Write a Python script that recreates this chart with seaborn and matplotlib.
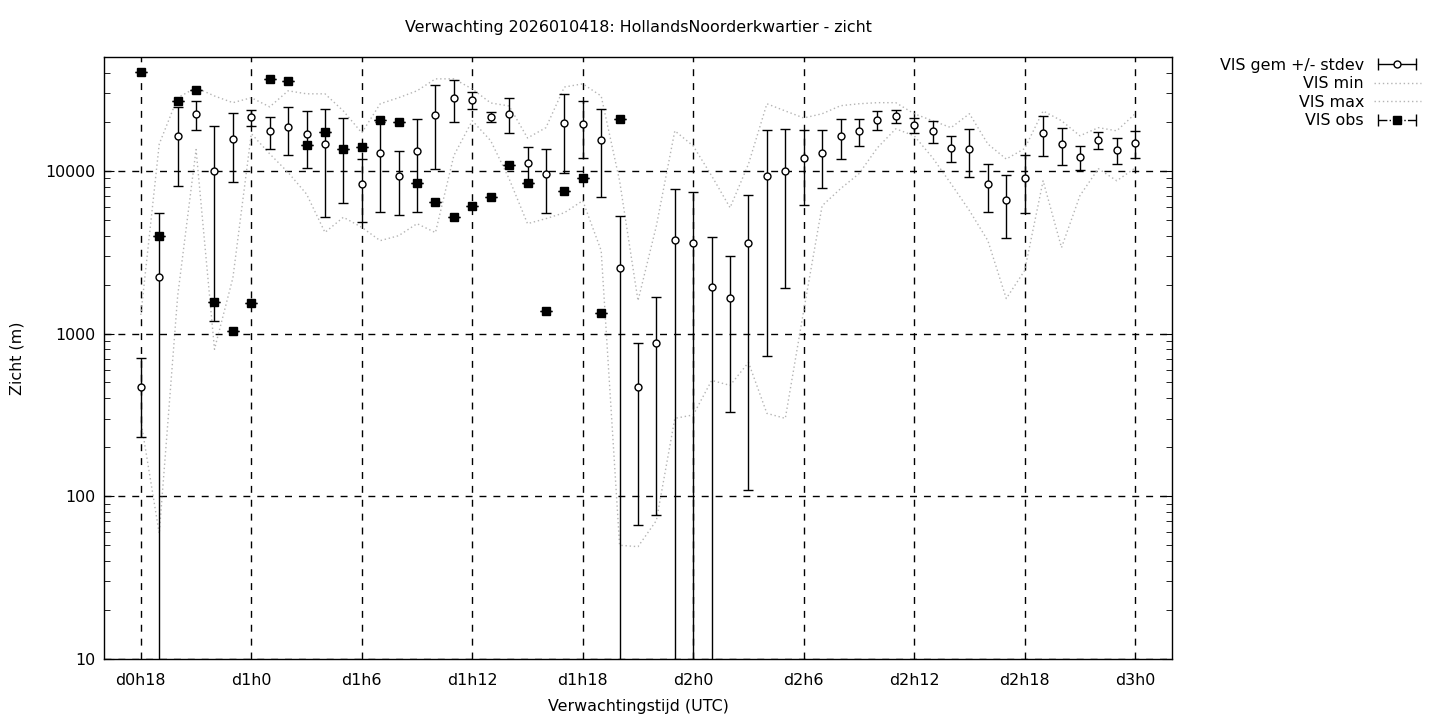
import numpy as np
import pandas as pd
import seaborn as sns
import matplotlib.pyplot as plt
from matplotlib.lines import Line2D
from matplotlib.legend_handler import HandlerLine2D, HandlerTuple

# forecast hours since d0h0, hourly from d0h18 to d3h0
hours = list(range(18, 73))

vis_mean = [470, 2240, 16300, 22300, 10000, 15600, 21300, 17500, 18500, 16800,
            14600, 13700, 8290, 12800, 9280, 13200, 21900, 27900, 27200, 21400,
            22400, 11150, 9540, 19700, 19400, 15400, 2540, 472, 877, 3760,
            3600, 1940, 1660, 3600, 9280, 10000, 11970, 12840, 16330, 17500,
            20500, 21600, 19060, 17500, 13780, 13600, 8290, 6610, 9020, 17030,
            14570, 12140, 15400, 13400, 14800]
vis_std = [240, 3280, 8200, 4500, 8800, 7100, 2400, 3800, 6000, 6400,
           9400, 7400, 3450, 7200, 3900, 7600, 11600, 8000, 3400, 1550,
           5400, 2750, 4050, 10000, 7350, 8500, 2730, 405, 800, 3970,
           3790, 1960, 1330, 3490, 8550, 8100, 5800, 5050, 4500, 3400,
           2800, 1950, 1950, 2600, 2500, 4400, 2700, 2750, 3500, 4650,
           3650, 2100, 1800, 2400, 2750]
vis_min = [292, 59, 1700, 13500, 800, 2200, 16900, 12700, 9760, 7190,
           4180, 5180, 4490, 3720, 3990, 4730, 4170, 12400, 20300, 15300,
           8930, 4730, 5080, 5520, 6550, 3230, 50, 49, 71, 301,
           316, 515, 480, 664, 323, 301, 1384, 6100, 7760, 9590,
           13840, 18100, 16400, 12020, 8320, 5690, 3720, 1640, 2440, 8680,
           3370, 7030, 10300, 8680, 10400]
vis_max = [1300, 14600, 28100, 32400, 28800, 26200, 28100, 24700, 31000, 29700,
           29700, 23300, 17100, 25800, 28100, 31000, 36700, 36700, 31800, 26100,
           25000, 15900, 18400, 32700, 34200, 28800, 8680, 1590, 4600, 17600,
           14200, 9310, 5930, 11000, 25800, 23300, 21100, 22400, 25100, 25800,
           26200, 26200, 22400, 20300, 18400, 22400, 14600, 11800, 13700, 23300,
           20300, 16400, 18400, 17600, 22400]

# observations, d0h18 to d1h20
obs_hours = list(range(18, 45))
vis_obs = [40400, 3990, 26800, 31500, 1563, 1042, 1540, 36500, 35500, 14400,
           17300, 13600, 14000, 20500, 19900, 8400, 6430, 5220, 6070, 6930,
           10800, 8400, 1384, 7500, 9020, 1340, 20800]

tick_hours = [18, 24, 30, 36, 42, 48, 54, 60, 66, 72]
tick_labels = ['d0h18', 'd1h0', 'd1h6', 'd1h12', 'd1h18',
               'd2h0', 'd2h6', 'd2h12', 'd2h18', 'd3h0']

df = pd.DataFrame({'uur': hours, 'gem': vis_mean, 'std': vis_std,
                   'min': vis_min, 'max': vis_max})
df_obs = pd.DataFrame({'uur': obs_hours, 'obs': vis_obs})

sns.set_style('ticks')
plt.rcParams['font.family'] = ['DejaVu Sans']
plt.rcParams['font.size'] = 11.4
plt.rcParams['text.color'] = 'k'
plt.rcParams['axes.labelcolor'] = 'k'
fs = 11.4

fig = plt.figure(figsize=(14.4, 7.2), dpi=100)
ax = fig.add_axes([104 / 1440, 61 / 720, 1068 / 1440, 602 / 720])

dots = (0, (1, 2))
sns.lineplot(data=df, x='uur', y='min', color='#b4b4b4', linestyle=dots, lw=1, ax=ax)
sns.lineplot(data=df, x='uur', y='max', color='#b4b4b4', linestyle=dots, lw=1, ax=ax)

# lower bar runs off the log axis when mean - stdev <= 0
lower = np.where(df['gem'] - df['std'] > 0, df['std'], df['gem'] - 1)
ax.errorbar(df['uur'], df['gem'], yerr=[lower, df['std']], fmt='o', color='k',
            mfc='white', mec='k', ms=5, mew=1, elinewidth=1, capsize=3.5,
            capthick=1, zorder=3)
ax.errorbar(df_obs['uur'], df_obs['obs'], yerr=np.zeros(len(df_obs)), fmt='s',
            color='k', ms=5.5, elinewidth=1, capsize=4, capthick=1, zorder=4)

ax.set_yscale('log')
ax.set_xlim(16, 74)
ax.set_ylim(10, 50000)
ax.set_xticks(tick_hours)
ax.set_xticklabels(tick_labels)
ax.set_yticks([10, 100, 1000, 10000])
ax.set_yticklabels(['10', '100', '1000', '10000'])
ax.tick_params(axis='both', which='both', direction='in', top=True, right=True,
               colors='k', labelsize=fs)
ax.tick_params(axis='x', which='major', length=0, pad=10)
ax.tick_params(axis='y', which='major', length=7, pad=6)
ax.tick_params(axis='y', which='minor', length=4)
ax.grid(True, which='major', color='k', linestyle=(0, (5, 5)), lw=1)
for s in ax.spines.values():
    s.set_color('k')
    s.set_linewidth(1)

ax.set_title('Verwachting 2026010418: HollandsNoorderkwartier - zicht',
             fontsize=fs, pad=18)
ax.set_xlabel('Verwachtingstijd (UTC)', fontsize=fs, labelpad=8)
ax.set_ylabel('Zicht (m)', fontsize=fs, labelpad=15)

# gnuplot-like legend keys
gem_caps = Line2D([], [], color='k', lw=1, marker='|', ms=8)
gem_dot = Line2D([], [], linestyle='none', marker='o', mfc='white', mec='k', ms=5)
min_line = Line2D([], [], color='#b4b4b4', linestyle=dots, lw=1)
max_line = Line2D([], [], color='#b4b4b4', linestyle=dots, lw=1)
obs_caps = Line2D([], [], color='k', lw=1, linestyle='-.', marker='|', ms=8)
obs_dot = Line2D([], [], linestyle='none', marker='s', color='k', ms=5.5)
hmap = {gem_caps: HandlerLine2D(numpoints=2), gem_dot: HandlerLine2D(numpoints=1),
        obs_caps: HandlerLine2D(numpoints=2), obs_dot: HandlerLine2D(numpoints=1),
        tuple: HandlerTuple(ndivide=1)}
fig.legend([(gem_caps, gem_dot), min_line, max_line, (obs_caps, obs_dot)],
           ['VIS gem +/- stdev', 'VIS min', 'VIS max', 'VIS obs'],
           handler_map=hmap, markerfirst=False, frameon=False,
           loc='upper right', bbox_to_anchor=(1421 / 1440, 1 - 58 / 720),
           borderpad=0, borderaxespad=0, handlelength=3.0, handletextpad=0.6,
           labelspacing=0.22, fontsize=fs)

fig.savefig('out.png', dpi=100)
